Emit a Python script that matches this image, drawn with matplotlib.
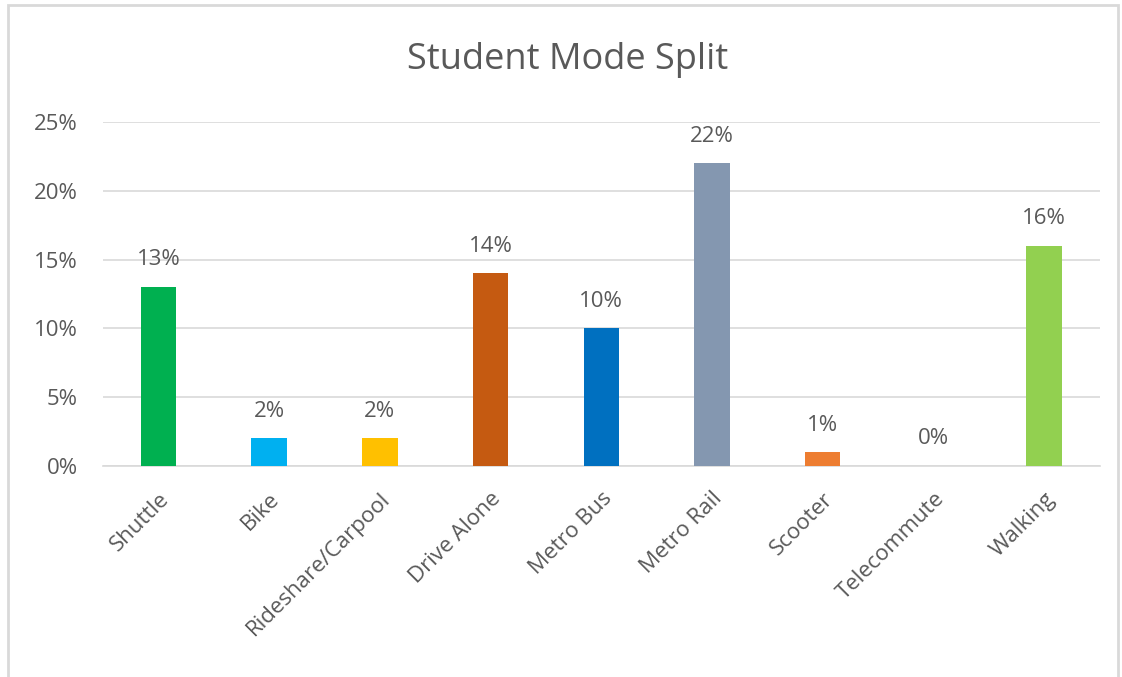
import matplotlib.pyplot as plt
from matplotlib.patches import Rectangle
from matplotlib.ticker import FuncFormatter

# donnees du graphique
modes = ["Shuttle", "Bike", "Rideshare/Carpool", "Drive Alone", "Metro Bus",
         "Metro Rail", "Scooter", "Telecommute", "Walking"]
parts = [0.13, 0.02, 0.02, 0.14, 0.10, 0.22, 0.01, 0.00, 0.16]
couleurs = ["#00B050", "#00B0F0", "#FFC000", "#C55A11", "#0070C0",
            "#8497B0", "#ED7D31", "#A5A5A5", "#92D050"]

gris = "#595959"
plt.rcParams['font.family'] = ['Open Sans', 'DejaVu Sans']

fig = plt.figure(figsize=(11.22, 6.77), dpi=100)
ax = fig.add_axes([0.0918, 0.3117, 0.8882, 0.5081])

x = range(len(modes))
ax.bar(x, parts, width=0.32, color=couleurs, zorder=3)

# etiquettes au-dessus des barres
for i, v in enumerate(parts):
    ax.annotate(f"{v*100:.0f}%", (i, v), xytext=(0, 12), textcoords="offset points",
                ha="center", va="bottom", fontsize=16, color=gris)

ax.set_xlim(-0.5, len(modes) - 0.5)
ax.set_ylim(0, 0.25)
ax.set_yticks([0, 0.05, 0.10, 0.15, 0.20, 0.25])
ax.yaxis.set_major_formatter(FuncFormatter(lambda v, p: f"{v*100:.0f}%"))
ax.set_xticks(list(x))
ax.set_xticklabels(modes, rotation=45, ha="right", va="top", rotation_mode="anchor",
                   fontsize=16, color=gris)
ax.tick_params(axis="y", labelsize=16, labelcolor=gris, length=0, pad=18)
ax.tick_params(axis="x", length=0, pad=16)

ax.grid(axis="y", color="#D9D9D9", linewidth=1.2, zorder=0)
for s in ["top", "right", "left"]:
    ax.spines[s].set_visible(False)
ax.spines["bottom"].set_color("#D9D9D9")
ax.spines["bottom"].set_linewidth(1.2)

fig.text(0.506, 0.912, "Student Mode Split", ha="center", va="center",
         fontsize=26, color=gris)

# cadre autour du graphique
fig.patches.append(Rectangle((8/1122, -0.02), 1110/1122, 1 - 5/677 + 0.02,
                             transform=fig.transFigure, fill=False,
                             edgecolor="#D9D9D9", linewidth=2))

fig.savefig("out.png", dpi=100)
